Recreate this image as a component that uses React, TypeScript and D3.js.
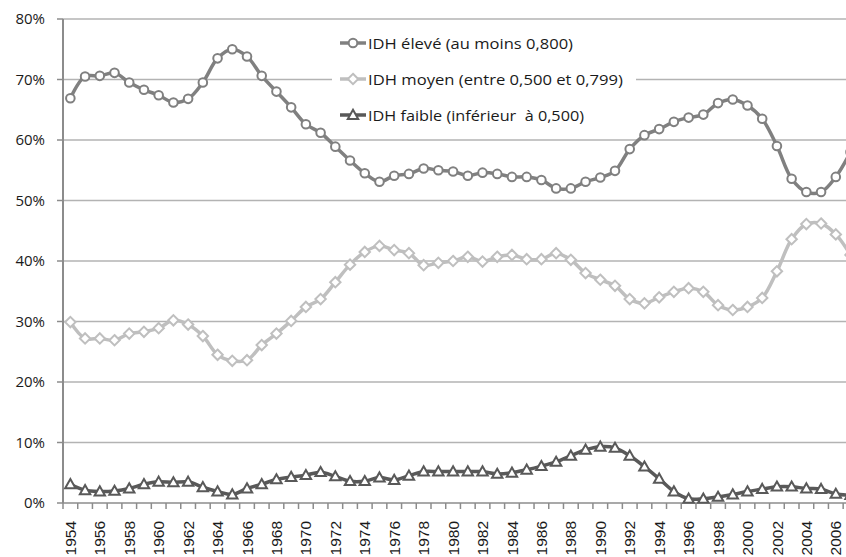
import React from "react";
import * as d3 from "d3";

const years: number[] = d3.range(1954, 2008);
const highIDH: number[] = [
  66.9, 70.5, 70.6, 71.1, 69.5, 68.3, 67.4, 66.2, 66.8, 69.5,
  73.5, 75.0, 73.8, 70.6, 68.0, 65.4, 62.6, 61.2, 58.9, 56.6,
  54.5, 53.1, 54.1, 54.4, 55.3, 55.0, 54.8, 54.1, 54.6, 54.4,
  53.9, 53.9, 53.4, 52.0, 52.0, 53.1, 53.8, 54.9, 58.5, 60.8,
  61.8, 63.0, 63.7, 64.2, 66.1, 66.7, 65.7, 63.5, 59.0, 53.6,
  51.4, 51.4, 53.9, 58.0,
];
const mediumIDH: number[] = [
  29.9, 27.2, 27.2, 26.9, 28.0, 28.3, 28.9, 30.2, 29.5, 27.6,
  24.5, 23.5, 23.6, 26.1, 28.0, 30.1, 32.4, 33.7, 36.5, 39.4,
  41.5, 42.5, 41.8, 41.3, 39.3, 39.7, 40.0, 40.7, 39.9, 40.7,
  41.0, 40.3, 40.3, 41.3, 40.2, 38.0, 36.9, 35.9, 33.7, 33.0,
  34.0, 34.9, 35.5, 34.9, 32.7, 31.9, 32.4, 33.9, 38.3, 43.6,
  46.1, 46.2, 44.4, 41.0,
];
const lowIDH: number[] = [
  3.1, 2.1, 1.9, 2.0, 2.4, 3.1, 3.5, 3.4, 3.5, 2.6,
  1.9, 1.4, 2.4, 3.1, 3.9, 4.3, 4.6, 5.1, 4.4, 3.6,
  3.6, 4.2, 3.8, 4.5, 5.2, 5.2, 5.2, 5.2, 5.2, 4.8,
  5.0, 5.5, 6.1, 6.8, 7.8, 8.8, 9.3, 9.1, 7.8, 6.0,
  4.0, 1.9, 0.7, 0.7, 1.0, 1.4, 1.9, 2.3, 2.7, 2.7,
  2.4, 2.3, 1.5, 1.3,
];
const yTicks: number[] = [0, 10, 20, 30, 40, 50, 60, 70, 80];
const seriesNames: string[] = [
  "IDH élevé (au moins 0,800)",
  "IDH moyen (entre 0,500 et 0,799)",
  "IDH faible (inférieur  à 0,500)",
];

const W = 846;
const H = 557;
const left = 63;
const step = 14.72;
const yTop = 19;
const yBottom = 503;

const x = d3.scaleLinear().domain([1954, 2006]).range([left + step / 2, left + step / 2 + 52 * step]);
const y = d3.scaleLinear().domain([0, 80]).range([yBottom, yTop]);

type Kind = "circle" | "diamond" | "triangle";
const series = [
  { name: seriesNames[0], values: highIDH, color: "#808080", kind: "circle" as Kind },
  { name: seriesNames[1], values: mediumIDH, color: "#bfbfbf", kind: "diamond" as Kind },
  { name: seriesNames[2], values: lowIDH, color: "#595959", kind: "triangle" as Kind },
];

function Marker({ kind, cx, cy, color }: { kind: Kind; cx: number; cy: number; color: string }) {
  if (kind === "circle") {
    return <circle cx={cx} cy={cy} r={4.3} fill="#fff" stroke={color} strokeWidth={2} />;
  }
  if (kind === "diamond") {
    const s = 5.2;
    return (
      <path
        d={`M${cx},${cy - s}L${cx + s},${cy}L${cx},${cy + s}L${cx - s},${cy}Z`}
        fill="#fff"
        stroke={color}
        strokeWidth={2}
      />
    );
  }
  const s = 5.2;
  return (
    <path
      d={`M${cx},${cy - s}L${cx + s},${cy + s * 0.75}L${cx - s},${cy + s * 0.75}Z`}
      fill="#fff"
      stroke={color}
      strokeWidth={2}
    />
  );
}

export default function App() {
  const line = d3
    .line<number>()
    .x((_, i) => x(years[i]))
    .y((d) => y(d))
    .curve(d3.curveCatmullRom.alpha(0.5));

  const legendY = [43, 79, 115];
  const legendLens = [205, 255, 216];

  return (
    <div style={{ position: "absolute", left: 0, top: 0 }}>
      <svg width={W} height={H} style={{ display: "block", background: "#fff" }}>
        {yTicks.map((t) =>
          t === 0 ? null : (
            <line key={"g" + t} x1={left} x2={W} y1={y(t)} y2={y(t)} stroke="#b3b3b3" strokeWidth={1.5} />
          )
        )}
        {yTicks.map((t) => (
          <g key={"yt" + t}>
            <line x1={57} x2={left} y1={y(t)} y2={y(t)} stroke="#8c8c8c" strokeWidth={1.5} />
            <text
              x={45}
              y={y(t) + 5}
              textAnchor="end"
              fontFamily="'Open Sans', sans-serif"
              fontSize={15}
              fill="#1a1a1a"
            >
              {t}%
            </text>
          </g>
        ))}
        <line x1={left} x2={W} y1={yBottom} y2={yBottom} stroke="#8c8c8c" strokeWidth={1.5} />
        {years.map((yr) => (
          <line
            key={"xt" + yr}
            x1={x(yr) - step / 2}
            x2={x(yr) - step / 2}
            y1={yBottom}
            y2={yBottom + 6}
            stroke="#8c8c8c"
            strokeWidth={1.5}
          />
        ))}
        {years
          .filter((yr) => yr % 2 === 0)
          .map((yr) => (
            <text
              key={"xl" + yr}
              transform={`translate(${x(yr) + 5.6},${521}) rotate(-90)`}
              textAnchor="end"
              fontFamily="'Liberation Sans', Arial, sans-serif"
              fontSize={15.5}
              fill="#1a1a1a"
            >
              {yr}
            </text>
          ))}
        <line x1={left} x2={left} y1={yTop} y2={yBottom} stroke="#8c8c8c" strokeWidth={2} />
        {series.map((s) => (
          <g key={s.name}>
            <path d={line(s.values) || ""} fill="none" stroke={s.color} strokeWidth={3.5} />
            {s.values.map((v, i) => (
              <Marker key={i} kind={s.kind} cx={x(years[i])} cy={y(v)} color={s.color} />
            ))}
          </g>
        ))}
        <rect x={332} y={27} width={304} height={102} fill="#fff" />
        {series.map((s, i) => (
          <g key={"lg" + i}>
            <line x1={340} x2={366} y1={legendY[i]} y2={legendY[i]} stroke={s.color} strokeWidth={3.5} />
            <Marker kind={s.kind} cx={353} cy={legendY[i]} color={s.color} />
            <text
              x={368}
              y={legendY[i] + 5.5}
              fontFamily="'Open Sans', sans-serif"
              fontSize={15}
              fill="#1a1a1a"
              textLength={legendLens[i]}
              lengthAdjust="spacingAndGlyphs"
              style={{ whiteSpace: "pre" }}
            >
              {s.name}
            </text>
          </g>
        ))}
      </svg>
    </div>
  );
}
